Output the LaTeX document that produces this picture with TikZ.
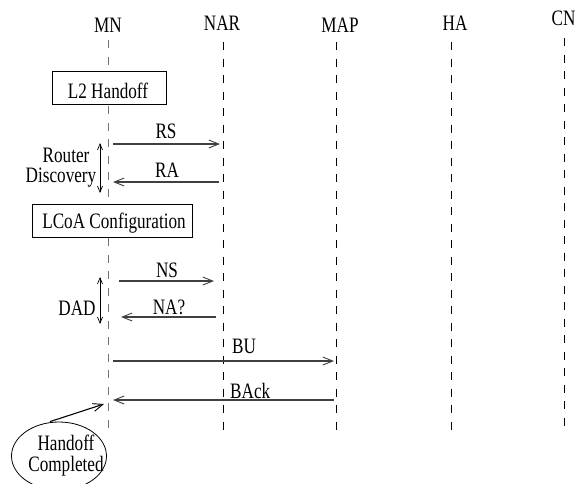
\documentclass[tikz,border=0pt]{standalone}
\usepackage{fontspec}
\setmainfont{Liberation Serif}[FakeStretch=0.78]
\usetikzlibrary{arrows.meta,shapes.geometric}

\begin{document}
\begin{tikzpicture}[x=1pt,y=-1pt,
  every node/.style={font=\fontsize{22}{24}\selectfont, inner sep=0pt},
  entity/.style={anchor=base},
  lifeline/.style={line width=0.9pt, dash pattern=on 8pt off 8.5pt},
  msg/.style={line width=1.1pt, draw=black!75, -{Straight Barb[length=10pt,width=8pt,line width=0.9pt]}},
  span/.style={line width=0.7pt, {Straight Barb[length=6pt,width=5pt]}-{Straight Barb[length=6pt,width=5pt]}},
  lbl/.style={anchor=base},
  stepbox/.style={draw, line width=0.8pt, anchor=north west}
]
\useasboundingbox (0,0) rectangle (576,483);

% entities
\node[entity] (mn)  at (108,32) {MN};
\node[entity] (nar) at (222,30) {NAR};
\node[entity] (map) at (340,32) {MAP};
\node[entity] (ha)  at (455,30) {HA};
\node[entity] (cn)  at (563.5,25) {CN};

% lifelines
\coordinate (mnT) at (108,40);  \coordinate (mnB) at (108,430);
\coordinate (narT) at (223,42); \coordinate (narB) at (223,432);
\coordinate (mapT) at (336,42); \coordinate (mapB) at (336,432);
\coordinate (haT) at (451,42);  \coordinate (haB) at (451,432);
\coordinate (cnT) at (564,38);  \coordinate (cnB) at (564,428);
\draw[lifeline, draw=black!55] (mnT) -- (mnB);
\draw[lifeline] (narT) -- (narB);
\draw[lifeline] (mapT) -- (mapB);
\draw[lifeline] (haT) -- (haB);
\draw[lifeline] (cnT) -- (cnB);

% L2 handoff
\node[stepbox, fill=white, minimum width=114pt, minimum height=33pt] (l2) at (52,71) {};
\node[lbl] (l2t) at (108,98) {L2 Handoff};

% router discovery
\coordinate (rs1) at (113,144); \coordinate (rs2) at (220,144);
\coordinate (ra1) at (219,182); \coordinate (ra2) at (113,182);
\draw[msg] (rs1) -- (rs2);
\draw[msg] (ra1) -- (ra2);
\node[lbl] (rs) at (166,138) {RS};
\node[lbl] (ra) at (167,177) {RA};
\coordinate (rdT) at (100,143); \coordinate (rdB) at (100,193);
\draw[span] (rdT) -- (rdB);
\node[lbl] (router) at (66,162) {Router};
\node[lbl] (disc) at (61,182) {Discovery};

% LCoA configuration
\node[stepbox, fill=white, minimum width=160pt, minimum height=33pt] (lcoa) at (32,204) {};
\node[lbl] (lcoat) at (114,228) {LCoA Configuration};

% DAD
\coordinate (ns1) at (119,281); \coordinate (ns2) at (214,281);
\coordinate (na1) at (216,317); \coordinate (na2) at (121,317);
\draw[msg] (ns1) -- (ns2);
\draw[msg] (na1) -- (na2);
\node[lbl] (ns) at (167,277) {NS};
\node[lbl] (na) at (169,314) {NA?};
\coordinate (dadT) at (100,277); \coordinate (dadB) at (100,324);
\draw[span] (dadT) -- (dadB);
\node[lbl] (dad) at (77,315) {DAD};

% binding update / acknowledgement
\coordinate (bu1) at (113,361); \coordinate (bu2) at (334,361);
\coordinate (ba1) at (334,400); \coordinate (ba2) at (113,400);
\draw[msg] (bu1) -- (bu2);
\draw[msg] (ba1) -- (ba2);
\node[lbl, anchor=base west] (bu) at (232,353) {BU};
\node[lbl, anchor=base west] (back) at (230,398) {BAck};

% handoff completed
\node[draw, ellipse, line width=0.8pt, minimum width=95pt, minimum height=68pt] (done) at (59,456) {};
\node[align=center, font=\fontsize{22}{21}\selectfont] (donet) at (66,456) {Handoff\\Completed};
\coordinate (doneTip) at (104,404);
\draw[msg, draw=black] (done.north) ++(-9,0) coordinate (doneTail) -- (doneTip);
\end{tikzpicture}
\end{document}
